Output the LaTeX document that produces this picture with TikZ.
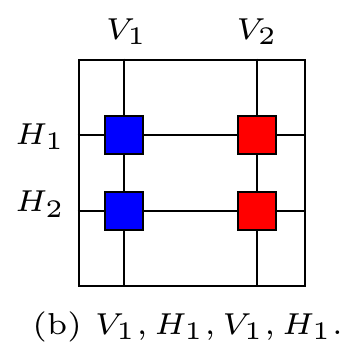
\documentclass[tikz,border=0pt]{standalone}
\usepackage{graphicx}
\newcommand{\lab}[1]{\scalebox{5.05}{\fontsize{6}{7}\selectfont #1}}
\begin{document}
\begin{tikzpicture}[x=1pt,y=-1pt,line width=2pt]
\useasboundingbox (0,0) rectangle (345,348);
\tikzset{
  cell/.style={draw=black, minimum size=38pt, inner sep=0pt, line width=2pt},
  lbl/.style={inner sep=0pt, anchor=base},
  frame/.style={draw=black, minimum width=226pt, minimum height=226pt, inner sep=0pt, line width=2.2pt}
}
\node[frame, anchor=north west] (fr) at (77.5,58.5) {};
\coordinate (v1t) at (123.5,58.5);
\coordinate (v1b) at (123.5,284.5);
\coordinate (v2t) at (256.5,58.5);
\coordinate (v2b) at (256.5,284.5);
\coordinate (h1l) at (77.5,134.5);
\coordinate (h1r) at (303.5,134.5);
\coordinate (h2l) at (77.5,210.5);
\coordinate (h2r) at (303.5,210.5);
\draw (v1t) -- (v1b);
\draw (v2t) -- (v2b);
\draw (h1l) -- (h1r);
\draw (h2l) -- (h2r);
\node[cell, fill=blue] (b1) at (123.5,134.5) {};
\node[cell, fill=blue] (b2) at (123.5,210.5) {};
\node[cell, fill=red] (r1) at (256.5,134.5) {};
\node[cell, fill=red] (r2) at (256.5,210.5) {};
\node[lbl] (V1) at (126.5,39) {\lab{$V_1$}};
\node[lbl] (V2) at (257,39) {\lab{$V_2$}};
\node[lbl] (H1) at (40,144) {\lab{$H_1$}};
\node[lbl] (H2) at (40,211.5) {\lab{$H_2$}};
\node[lbl] (cap) at (187.5,334) {\lab{(b) $V_1, H_1, V_1, H_1$.}};
\end{tikzpicture}
\end{document}
